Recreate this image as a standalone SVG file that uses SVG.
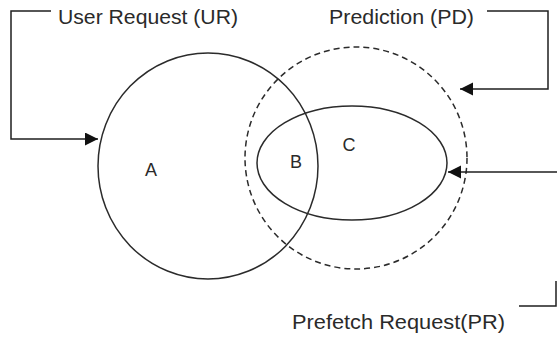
<svg xmlns="http://www.w3.org/2000/svg" width="557" height="339" viewBox="0 0 557 339">
  <style>
    .set { fill: none; stroke: #2b2b2b; stroke-width: 1.5; }
    .dashed { stroke-dasharray: 6 4; }
    .conn { fill: none; stroke: #1f1f1f; stroke-width: 1.5; }
    .label { font-family: "Liberation Sans", Arial, sans-serif; font-size: 20.5px; fill: #2a2a2a; }
    .region { font-family: "Liberation Sans", Arial, sans-serif; font-size: 18px; fill: #2a2a2a; text-anchor: middle; }
  </style>
  <defs>
    <marker id="arrow" markerUnits="userSpaceOnUse" markerWidth="14" markerHeight="14" refX="13" refY="6.5" orient="auto">
      <path d="M0,0 L13,6.5 L0,13 Z" fill="#111"/>
    </marker>
  </defs>
  <rect width="557" height="339" fill="#fff"/>

  <!-- User Request set -->
  <g id="user-request">
    <ellipse class="set" cx="208" cy="166" rx="110" ry="113"/>
    <text class="region" x="151" y="176">A</text>
  </g>

  <!-- Prediction set -->
  <g id="prediction">
    <circle class="set dashed" cx="356" cy="158" r="111"/>
  </g>

  <!-- Prefetch Request set -->
  <g id="prefetch-request">
    <ellipse class="set" cx="352" cy="163" rx="95" ry="57"/>
    <text class="region" x="296" y="168">B</text>
    <text class="region" x="349" y="151">C</text>
  </g>

  <!-- Labels -->
  <g id="label-ur">
    <text class="label" x="58" y="24" textLength="180" lengthAdjust="spacingAndGlyphs">User Request (UR)</text>
  </g>
  <g id="label-pd">
    <text class="label" x="329" y="24" textLength="145" lengthAdjust="spacingAndGlyphs">Prediction (PD)</text>
  </g>
  <g id="label-pr">
    <text class="label" x="292" y="329" textLength="213" lengthAdjust="spacingAndGlyphs">Prefetch Request(PR)</text>
  </g>

  <!-- Connectors -->
  <g id="connectors">
    <path class="conn" d="M51,11 H11 V139 H98" marker-end="url(#arrow)"/>
    <path class="conn" d="M487,11 H548 V89 H460" marker-end="url(#arrow)"/>
    <path class="conn" d="M558,172 H448" marker-end="url(#arrow)"/>
    <path class="conn" d="M519,306 H556 V281"/>
  </g>
</svg>
